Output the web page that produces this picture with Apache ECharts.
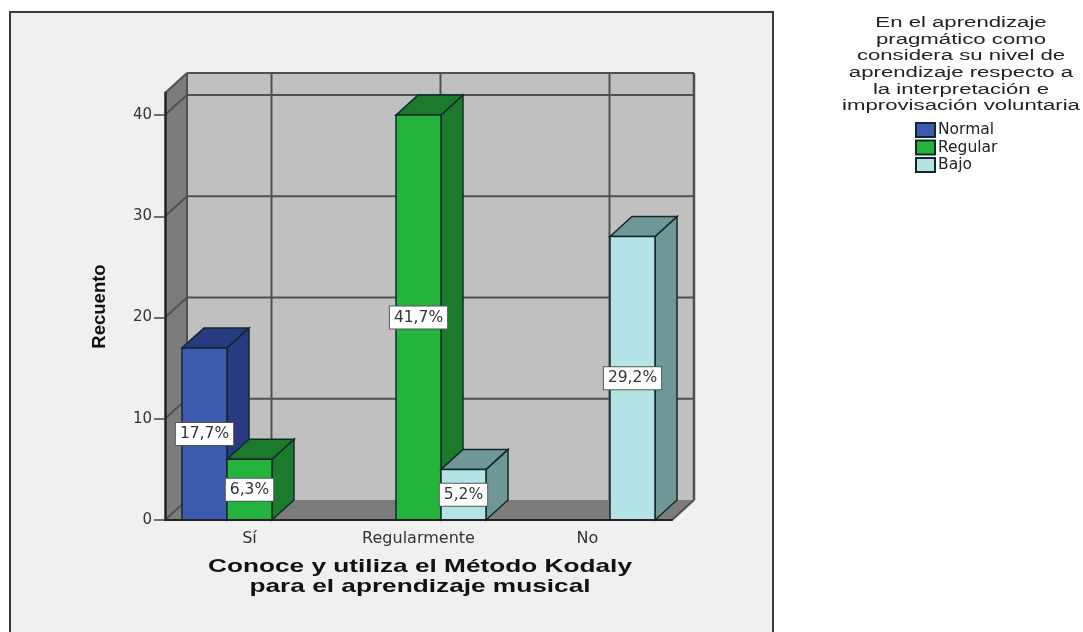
<!DOCTYPE html>
<html>
<head>
<meta charset="utf-8">
<style>html,body{margin:0;padding:0;background:#fff}#c{width:1083px;height:632px}</style>
<script src="https://cdn.jsdelivr.net/npm/echarts@6/dist/echarts.min.js"></script>
</head>
<body>
<div id="c"></div>
<script>
const categories = ['Sí', 'Regularmente', 'No'];
const normal = [17, 0, 0];
const regular = [6, 40, 0];
const bajo = [0, 5, 28];
const normalLabels = ['17,7%', '', ''];
const regularLabels = ['6,3%', '41,7%', ''];
const bajoLabels = ['', '5,2%', '29,2%'];
const yTicks = [0, 10, 20, 30, 40];
const seriesNames = ['Normal', 'Regular', 'Bajo'];
const legendTitle = 'En el aprendizaje\npragmático como\nconsidera su nivel de\naprendizaje respecto a\nla interpretación e\nimprovisación voluntaria';
const xTitle = 'Conoce y utiliza el Método Kodaly\npara el aprendizaje musical';
const yTitle = 'Recuento';

const DX = 22, DY = 20, BAR_SHARE = 45 / 169;
const FONT = '"DejaVu Sans"';
const ARIAL = '"Liberation Sans"';
const EDGE = '#10282a';

function poly(points, fill, z2) {
  return { type: 'polygon', z2: z2 || 0, shape: { points },
    style: { fill, stroke: EDGE, lineWidth: 1.5 } };
}

function barRenderer(slot, front, side, top, labels) {
  return function (params, api) {
    const cat = api.value(0), val = api.value(1);
    if (!val) return null;
    const tip = api.coord([cat, val]);
    const base = api.coord([cat, 0]);
    const w = api.size([1, 0])[0] * BAR_SHARE;
    const x0 = tip[0] + (slot - 1.5) * w, x1 = x0 + w;
    const yT = tip[1], yB = base[1];
    return { type: 'group', children: [
      poly([[x1, yB], [x1 + DX, yB - DY], [x1 + DX, yT - DY], [x1, yT]], side),
      poly([[x0, yT], [x0 + DX, yT - DY], [x1 + DX, yT - DY], [x1, yT]], top),
      poly([[x0, yT], [x1, yT], [x1, yB], [x0, yB]], front),
      { type: 'text', z2: 50, x: (x0 + x1) / 2, y: (yT + yB) / 2,
        style: { text: labels[cat], fill: '#333', font: '15.5px ' + FONT, align: 'center',
          verticalAlign: 'middle', backgroundColor: '#fff', borderColor: '#555', borderWidth: 1,
          padding: [3, 4, 3, 4] } }
    ] };
  };
}

function wallsRenderer(params, api) {
  const cs = params.coordSys;
  const L = cs.x, R = cs.x + cs.width, T = cs.y, B = cs.y + cs.height;
  const wall = '#c0c0c0', shade = '#7c7c7c', line = '#505050';
  const seg = (x1, y1, x2, y2, lw) => ({ type: 'line',
    shape: { x1, y1, x2, y2 }, style: { stroke: line, lineWidth: lw || 2, fill: null } });
  const kids = [
    { type: 'rect', shape: { x: L + DX, y: T - DY, width: cs.width, height: cs.height },
      style: { fill: wall } },
    { type: 'polygon', shape: { points: [[L, T], [L + DX, T - DY], [L + DX, B - DY], [L, B]] },
      style: { fill: shade } },
    { type: 'polygon', shape: { points: [[L, B], [L + DX, B - DY], [R + DX, B - DY], [R, B]] },
      style: { fill: shade } }
  ];
  yTicks.forEach(v => {
    const y = api.coord([0, v])[1];
    if (v > 0) kids.push(seg(L + DX, y - DY, R + DX, y - DY));
    kids.push(seg(L, y, L + DX, y - DY));
  });
  categories.forEach((c, i) => {
    const x = api.coord([i, 0])[0] + DX;
    kids.push(seg(x, T - DY, x, B - DY));
  });
  kids.push(seg(L, T, L + DX, T - DY));
  kids.push(seg(L + DX, T - DY, R + DX, T - DY));
  kids.push(seg(L + DX, T - DY, L + DX, B - DY));
  kids.push(seg(R + DX, T - DY, R + DX, B - DY, 2.5));
  kids.push(seg(R, B, R + DX, B - DY));
  return { type: 'group', children: kids };
}

function pairs(arr) { return arr.map((v, i) => [i, v]); }

const chart = echarts.init(document.getElementById('c'), null, { renderer: 'canvas' });
chart.setOption({
  animation: false,
  backgroundColor: '#ffffff',
  legend: {
    orient: 'vertical', left: 910, top: 117, itemWidth: 19, itemHeight: 14, itemGap: 1.5,
    icon: 'rect', data: seriesNames, selectedMode: false,
    textStyle: { fontFamily: FONT, fontSize: 15.5, lineHeight: 14.5, color: '#222', padding: [0, 0, 0, -2] }
  },
  grid: { left: 165, top: 93, width: 507, height: 427 },
  xAxis: {
    type: 'category', data: categories, z: 3,
    axisLine: { lineStyle: { color: '#222', width: 2 } },
    axisTick: { alignWithLabel: true, length: 9, lineStyle: { color: '#222', width: 2 } },
    axisLabel: { fontFamily: FONT, fontSize: 16, color: '#333', margin: 11 }
  },
  yAxis: {
    type: 'value', min: 0, max: 427 / 10.125, interval: 10, z: 3,
    splitLine: { show: false },
    axisLine: { show: true, lineStyle: { color: '#222', width: 2.5 } },
    axisTick: { show: true, length: 11, customValues: yTicks, lineStyle: { color: '#444', width: 1.5 } },
    axisLabel: { fontFamily: FONT, fontSize: 15, color: '#333', margin: 13, customValues: yTicks },
    name: yTitle, nameLocation: 'middle', nameGap: 56, nameRotate: 90,
    nameTextStyle: { fontFamily: ARIAL, fontSize: 18.5, fontWeight: 'bold', color: '#111' }
  },
  graphic: [
    { type: 'rect', z: -10, silent: true,
      shape: { x: 10, y: 12, width: 763, height: 640 },
      style: { fill: '#f0f0f0', stroke: '#3a3a3a', lineWidth: 2 } },
    { type: 'text', silent: true, x: 420, y: 577, scaleX: 1.38,
      style: { text: xTitle, font: 'bold 19px ' + ARIAL, fill: '#111', lineHeight: 20,
        align: 'center', verticalAlign: 'middle' } },
    { type: 'text', silent: true, x: 961, y: 64.5, scaleX: 1.43,
      style: { text: legendTitle, font: '15.5px ' + ARIAL, fill: '#222', lineHeight: 16.6,
        align: 'center', verticalAlign: 'middle' } }
  ],
  series: [
    { type: 'custom', z: 1, silent: true, clip: false, renderItem: wallsRenderer, data: [[0, 0]], legendHoverLink: false,
      encode: { x: 0, y: 1 } },
    { name: 'Normal', type: 'custom', z: 2, clip: false, encode: { x: 0, y: 1 },
      itemStyle: { color: '#3c5aae', borderColor: EDGE, borderWidth: 1 },
      renderItem: barRenderer(0, '#3c5aae', '#283a80', '#283a80', normalLabels), data: pairs(normal) },
    { name: 'Regular', type: 'custom', z: 2, clip: false, encode: { x: 0, y: 1 },
      itemStyle: { color: '#24b33c', borderColor: EDGE, borderWidth: 1 },
      renderItem: barRenderer(1, '#24b33c', '#1c7a2c', '#1c7a2c', regularLabels), data: pairs(regular) },
    { name: 'Bajo', type: 'custom', z: 2, clip: false, encode: { x: 0, y: 1 },
      itemStyle: { color: '#b4e4e6', borderColor: EDGE, borderWidth: 1 },
      renderItem: barRenderer(2, '#b4e4e6', '#6f9797', '#6f9797', bajoLabels), data: pairs(bajo) }
  ]
});
</script>
</body>
</html>
